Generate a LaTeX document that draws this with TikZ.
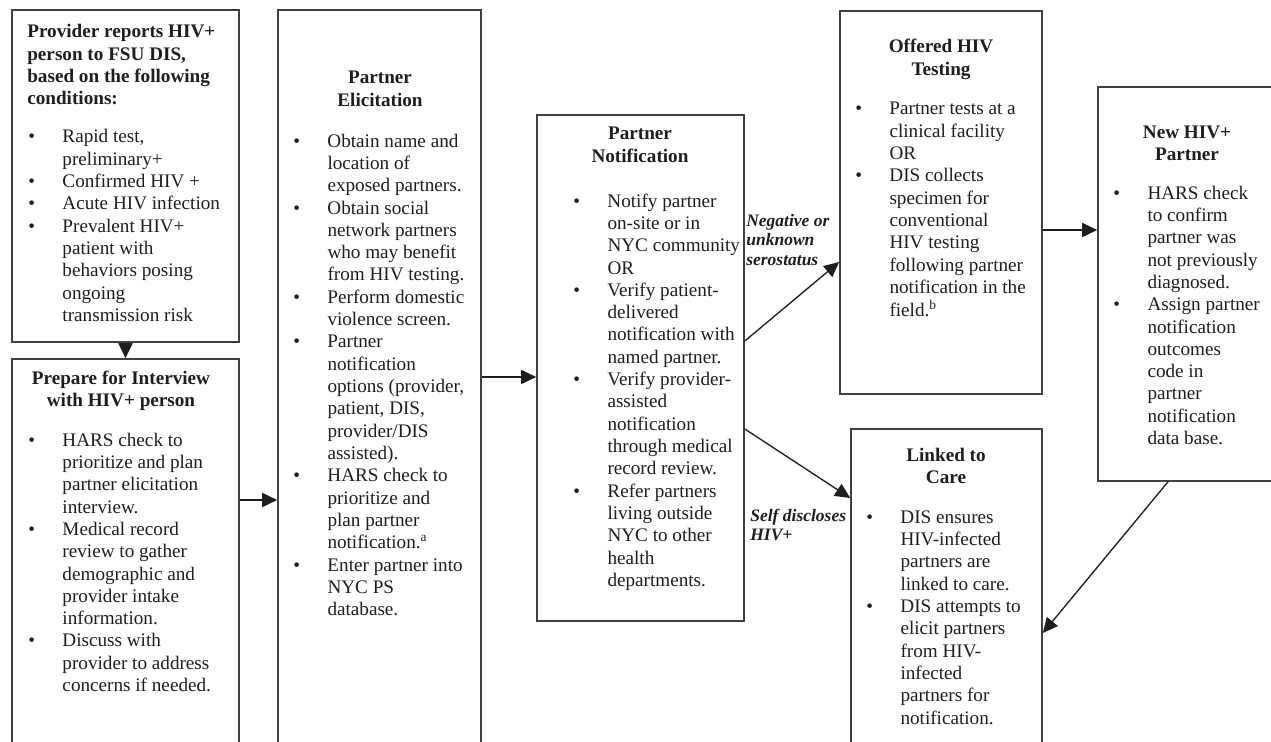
\documentclass[tikz,border=0pt]{standalone}
\usepackage{fontspec}
\setmainfont{Liberation Serif}
\usetikzlibrary{arrows.meta,fit,positioning}

\definecolor{edge}{RGB}{64,64,64}
\definecolor{ink}{RGB}{30,30,30}
\newcommand{\bu}{\textbullet &}
\newcommand{\blist}[1]{\begin{tabular}[t]{@{}p{20.5pt}@{}l@{}}#1\end{tabular}}
\newcommand{\tlines}[2][c]{\begin{tabular}[t]{@{}#1@{}}#2\end{tabular}}

\begin{document}
\begin{tikzpicture}[x=0.6pt,y=-0.6pt,>={Triangle[length=9pt,width=8.5pt]},
    box/.style={draw=edge,line width=1pt,inner sep=0pt},
    head/.style={inner sep=0pt,anchor=base,text=ink,font=\fontsize{11.5}{13.4}\selectfont\bfseries},
    list/.style={inner sep=0pt,anchor=base west,text=ink,font=\fontsize{11.5}{13.4}\selectfont},
    lbl/.style={inner sep=0pt,anchor=base west,text=ink,font=\fontsize{10.5}{11.7}\selectfont\bfseries\itshape},
    flow/.style={->,draw=ink,line width=0.8pt}]
  \useasboundingbox (0,0) rectangle (1271,742);
  \clip (0,0) rectangle (1271,742);

  % boxes
  \node[box,fit={(12,10) (239,342)}] (provider) {};
  \node[box,fit={(12,359) (239,800)}] (prepare) {};
  \node[box,fit={(278,10) (481,800)}] (elicit) {};
  \node[box,fit={(537,115) (744,621)}] (notify) {};
  \node[box,fit={(840,11) (1042,394)}] (testing) {};
  \node[box,fit={(1098,87) (1300,481)}] (newpos) {};
  \node[box,fit={(851,429) (1042,800)}] (linked) {};

  % provider report
  \node[head,anchor=base west] (provider-h) at (27,38)
    {\tlines[l]{Provider reports HIV+\\person to FSU DIS,\\based on the following\\conditions:}};
  \node[list] (provider-l) at (28,143) {\blist{%
    \bu Rapid test,\\ & preliminary+\\
    \bu Confirmed HIV +\\
    \bu Acute HIV infection\\
    \bu Prevalent HIV+\\ & patient with\\ & behaviors posing\\ & ongoing\\ & transmission risk}};

  % interview
  \node[head] (prepare-h) at (121,384) {\tlines{Prepare for Interview\\with HIV+ person}};
  \node[list] (prepare-l) at (28,446) {\blist{%
    \bu HARS check to\\ & prioritize and plan\\ & partner elicitation\\ & interview.\\
    \bu Medical record\\ & review to gather\\ & demographic and\\ & provider intake\\ & information.\\
    \bu Discuss with\\ & provider to address\\ & concerns if needed.}};

  % elicitation
  \node[head] (elicit-h) at (380,84) {\tlines{Partner\\Elicitation}};
  \node[list] (elicit-l) at (293,147) {\blist{%
    \bu Obtain name and\\ & location of\\ & exposed partners.\\
    \bu Obtain social\\ & network partners\\ & who may benefit\\ & from HIV testing.\\
    \bu Perform domestic\\ & violence screen.\\
    \bu Partner\\ & notification\\ & options (provider,\\ & patient, DIS,\\ & provider/DIS\\ & assisted).\\
    \bu HARS check to\\ & prioritize and\\ & plan partner\\ & notification.\textsuperscript{a}\\
    \bu Enter partner into\\ & NYC PS\\ & database.}};

  % notification
  \node[head] (notify-h) at (640,140) {\tlines{Partner\\Notification}};
  \node[list] (notify-l) at (573,207) {\blist{%
    \bu Notify partner\\ & on-site or in\\ & NYC community\\ & OR\\
    \bu Verify patient-\\ & delivered\\ & notification with\\ & named partner.\\
    \bu Verify provider-\\ & assisted\\ & notification\\ & through medical\\ & record review.\\
    \bu Refer partners\\ & living outside\\ & NYC to other\\ & health\\ & departments.}};

  % testing
  \node[head] (testing-h) at (941,53) {\tlines{Offered HIV\\Testing}};
  \node[list] (testing-l) at (855,115) {\blist{%
    \bu Partner tests at a\\ & clinical facility\\ & OR\\
    \bu DIS collects\\ & specimen for\\ & conventional\\ & HIV testing\\ & following partner\\ & notification in the\\ & field.\textsuperscript{b}}};

  % new positive
  \node[head] (newpos-h) at (1187,138) {\tlines{New HIV+\\Partner}};
  \node[list] (newpos-l) at (1113,199) {\blist{%
    \bu HARS check\\ & to confirm\\ & partner was\\ & not previously\\ & diagnosed.\\
    \bu Assign partner\\ & notification\\ & outcomes\\ & code in\\ & partner\\ & notification\\ & data base.}};

  % care
  \node[head] (linked-h) at (946,461) {\tlines{Linked to\\Care}};
  \node[list] (linked-l) at (866,523) {\blist{%
    \bu DIS ensures\\ & HIV-infected\\ & partners are\\ & linked to care.\\
    \bu DIS attempts to\\ & elicit partners\\ & from HIV-\\ & infected\\ & partners for\\ & notification.}};

  % outcome labels
  \node[lbl] (neg) at (746,226) {\tlines[l]{Negative or\\unknown\\serostatus}};
  \node[lbl] (self) at (750,521) {\tlines[l]{Self discloses\\HIV+}};

  % flow
  \draw[flow] (provider) -- (prepare);
  \draw[flow] (prepare.east |- 0,500) -- (elicit.west |- 0,500);
  \draw[flow] (elicit.east |- 0,377) -- (notify.west |- 0,377);
  \draw[flow] (notify.east |- 0,341) -- (testing.west |- 0,262);
  \draw[flow] (notify.east |- 0,429) -- (linked.west |- 0,498);
  \draw[flow] (testing.east |- 0,230) -- (newpos.west |- 0,230);
  \draw[flow] (newpos.south -| 1168,0) -- (linked.east |- 0,633);
\end{tikzpicture}
\end{document}
